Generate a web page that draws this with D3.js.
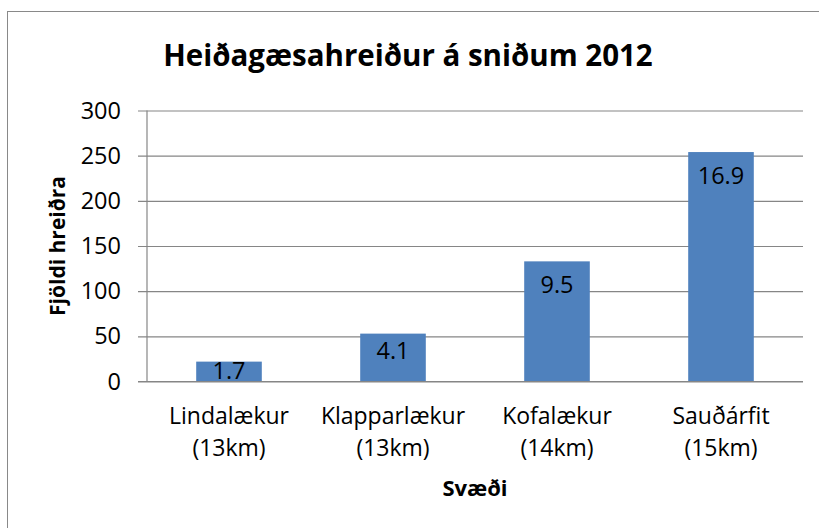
<!DOCTYPE html>
<html>
<head>
<meta charset="utf-8">
<script src="https://cdn.jsdelivr.net/npm/d3@7"></script>
<style>
    body { margin: 0; background: #fff; }
    text { font-family: "Open Sans", sans-serif; fill: #000; }
</style>
</head>
<body>
<div id="chart-area"></div>
<script>

// values
const categories = ["Lindalækur", "Klapparlækur", "Kofalækur", "Sauðárfit"];
const transectLengths = ["(13km)", "(13km)", "(14km)", "(15km)"];
const nestCounts = [22, 53, 133, 254];
const densityLabels = ["1.7", "4.1", "9.5", "16.9"];
const yTicks = [0, 50, 100, 150, 200, 250, 300];

class NestVis {

    constructor(parentElement) {
        this.parentElement = parentElement;
        this.displayData = categories.map((c, i) => ({
            name: c,
            length: transectLengths[i],
            count: nestCounts[i],
            label: densityLabels[i]
        }));

        this.initVis()
    }

    initVis() {
        let vis = this;

        vis.width = 819;
        vis.height = 528;
        vis.margin = {top: 110.5, right: 16, bottom: 146.5, left: 147};

        vis.svg = d3.select("#" + vis.parentElement).append("svg")
            .attr("width", vis.width)
            .attr("height", vis.height);

        // chart frame (only left and top edges show, rest is cropped)
        vis.svg.append("rect")
            .attr("x", 7.5)
            .attr("y", 11.5)
            .attr("width", 830)
            .attr("height", 540)
            .attr("fill", "none")
            .attr("stroke", "#898989")
            .attr("stroke-width", 1);

        vis.x = d3.scaleBand()
            .domain(categories)
            .range([vis.margin.left, vis.width - vis.margin.right])
            .paddingInner(0.6)
            .paddingOuter(0.3);

        vis.y = d3.scaleLinear()
            .domain([0, 300])
            .range([vis.height - vis.margin.bottom, vis.margin.top]);

        vis.updateVis()
    }

    updateVis() {
        let vis = this;

        // gridlines + y axis
        let yAxis = d3.axisLeft(vis.y)
            .tickValues(yTicks)
            .tickSize(-(vis.width - vis.margin.right - vis.margin.left))
            .tickSizeOuter(0)
            .tickPadding(26);

        let yAxisG = vis.svg.append("g")
            .attr("class", "y-axis")
            .attr("transform", `translate(${vis.margin.left},0)`)
            .call(yAxis);

        yAxisG.select(".domain").remove();
        yAxisG.selectAll(".tick line")
            .attr("x1", -9)
            .attr("stroke", "#868686")
            .attr("stroke-width", 1.2);
        yAxisG.selectAll(".tick text")
            .attr("font-size", 23.5)
            .attr("font-family", "Open Sans")
            .attr("fill", "#000");

        // vertical axis line
        vis.svg.append("line")
            .attr("x1", vis.margin.left)
            .attr("x2", vis.margin.left)
            .attr("y1", vis.y(300))
            .attr("y2", vis.y(0))
            .attr("stroke", "#868686")
            .attr("stroke-width", 1.2);

        // bars
        vis.svg.selectAll(".bar")
            .data(vis.displayData)
            .enter().append("rect")
            .attr("class", "bar")
            .attr("x", d => vis.x(d.name))
            .attr("y", d => vis.y(d.count))
            .attr("width", vis.x.bandwidth())
            .attr("height", d => vis.y(0) - vis.y(d.count))
            .attr("fill", "#4f81bd");

        // bottom axis line drawn over the bars
        vis.svg.append("line")
            .attr("x1", vis.margin.left - 9)
            .attr("x2", vis.width - vis.margin.right)
            .attr("y1", vis.y(0))
            .attr("y2", vis.y(0))
            .attr("stroke", "#868686")
            .attr("stroke-width", 1.2);

        // data labels, inside end (short bars get centered)
        vis.svg.selectAll(".bar-label")
            .data(vis.displayData)
            .enter().append("text")
            .attr("class", "bar-label")
            .attr("x", d => vis.x(d.name) + vis.x.bandwidth() / 2)
            .attr("y", function (d) {
                let top = vis.y(d.count);
                let h = vis.y(0) - top;
                if (h < 30) {
                    return top + h / 2 + 7.5;
                }
                return top + Math.min(32, h - 22.5);
            })
            .attr("text-anchor", "middle")
            .attr("font-size", 23.5)
            .text(d => d.label);

        // category labels, two lines
        let catLabels = vis.svg.selectAll(".cat-label")
            .data(vis.displayData)
            .enter().append("text")
            .attr("class", "cat-label")
            .attr("text-anchor", "middle")
            .attr("font-size", 23);

        catLabels.append("tspan")
            .attr("x", d => vis.x(d.name) + vis.x.bandwidth() / 2)
            .attr("y", 424)
            .text(d => d.name);

        catLabels.append("tspan")
            .attr("x", d => vis.x(d.name) + vis.x.bandwidth() / 2)
            .attr("y", 456)
            .text(d => d.length);

        // titles
        vis.svg.append("text")
            .attr("x", 408)
            .attr("y", 66)
            .attr("text-anchor", "middle")
            .attr("font-size", 29.5)
            .attr("font-weight", "bold")
            .text("Heiðagæsahreiður á sniðum 2012");

        vis.svg.append("text")
            .attr("x", (vis.margin.left + vis.width - vis.margin.right) / 2)
            .attr("y", 496)
            .attr("text-anchor", "middle")
            .attr("font-size", 22)
            .attr("font-weight", "bold")
            .text("Svæði");

        vis.svg.append("text")
            .attr("transform", `translate(65, ${vis.y(150)}) rotate(-90)`)
            .attr("text-anchor", "middle")
            .attr("font-size", 21)
            .attr("font-weight", "bold")
            .text("Fjöldi hreiðra");
    }
}

new NestVis("chart-area");

</script>
</body>
</html>
